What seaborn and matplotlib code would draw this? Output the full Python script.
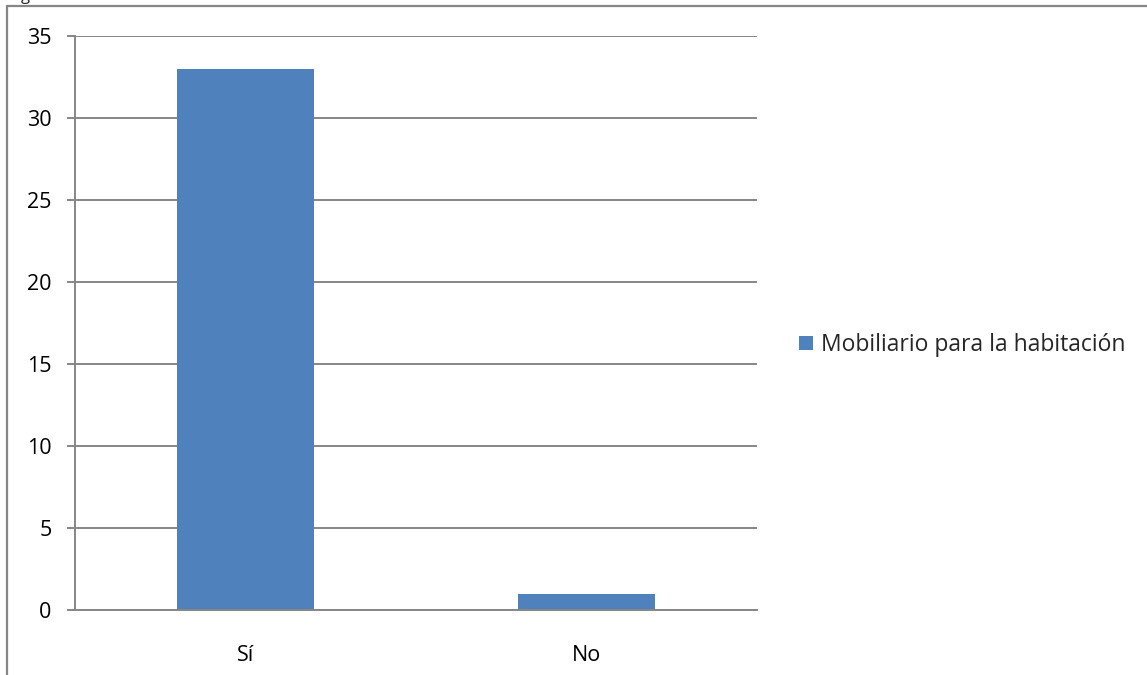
import matplotlib
matplotlib.use("Agg")
import matplotlib.pyplot as plt
from matplotlib.lines import Line2D
from matplotlib.patches import Rectangle
import seaborn as sns
import pandas as pd

categories = ["Sí", "No"]
values = [33, 1]
series_name = "Mobiliario para la habitación"
y_ticks = [0, 5, 10, 15, 20, 25, 30, 35]

sns.set_theme(style="white")
plt.rcParams["font.family"] = ["Open Sans", "DejaVu Sans"]

W, H = 1147, 675
fig = plt.figure(figsize=(W / 100, H / 100), dpi=100)
ax = fig.add_axes([75 / W, 1 - 610 / H, (757 - 75) / W, (610 - 36) / H])

bar_color = "#4F81BD"
grid_color = "#868686"
label_size = 15.5

df = pd.DataFrame({"cat": categories, "val": values})
sns.barplot(data=df, x="cat", y="val", color=bar_color, saturation=1,
            width=0.4, ax=ax, zorder=3)
for p in ax.patches:
    p.set_edgecolor("none")

ax.set_ylim(0, 35)
ax.set_xlim(-0.5, 1.5)
ax.set_yticks(y_ticks)
ax.set_yticklabels([str(t) for t in y_ticks])
ax.yaxis.grid(True, color=grid_color, linewidth=1.4, zorder=0)
ax.set_axisbelow(True)

# category labels centred, tick marks at category boundaries
ax.set_xticks([0, 1])
ax.set_xticklabels(categories)
ax.set_xticks([-0.5, 0.5, 1.5], minor=True)
ax.tick_params(axis="x", which="major", length=0, pad=25, labelsize=label_size, colors="black")
ax.tick_params(axis="x", which="minor", length=6, width=1.4, color=grid_color, direction="out")
ax.tick_params(axis="y", which="major", length=6, width=1.4, color=grid_color,
               direction="out", pad=11, labelsize=label_size, labelcolor="black", left=True)
ax.set_xlabel("")
ax.set_ylabel("")

for side in ["top", "right"]:
    ax.spines[side].set_visible(False)
for side in ["left", "bottom"]:
    ax.spines[side].set_color(grid_color)
    ax.spines[side].set_linewidth(1.4)
    ax.spines[side].set_zorder(4)

# legend
handle = Rectangle((0, 0), 1, 1, facecolor=bar_color, edgecolor="none")
fig.legend([handle], [series_name], loc="center left",
           bbox_to_anchor=(799 / W, 1 - 345 / H), frameon=False,
           fontsize=16.5, handlelength=0.6, handleheight=0.6,
           handletextpad=0.35, borderaxespad=0, borderpad=0)

# outer chart frame
fx = 7.5 / W
fy = 1 - 5.5 / H
fig.add_artist(Line2D([fx, 1.0], [fy, fy], transform=fig.transFigure,
                      color=grid_color, linewidth=1.6))
fig.add_artist(Line2D([fx, fx], [0.0, fy], transform=fig.transFigure,
                      color=grid_color, linewidth=1.6))
fig.text(25 / W, 1 + 4 / H, "g", fontsize=12, ha="center", va="center")

fig.savefig("out.png", dpi=100, facecolor="white")
